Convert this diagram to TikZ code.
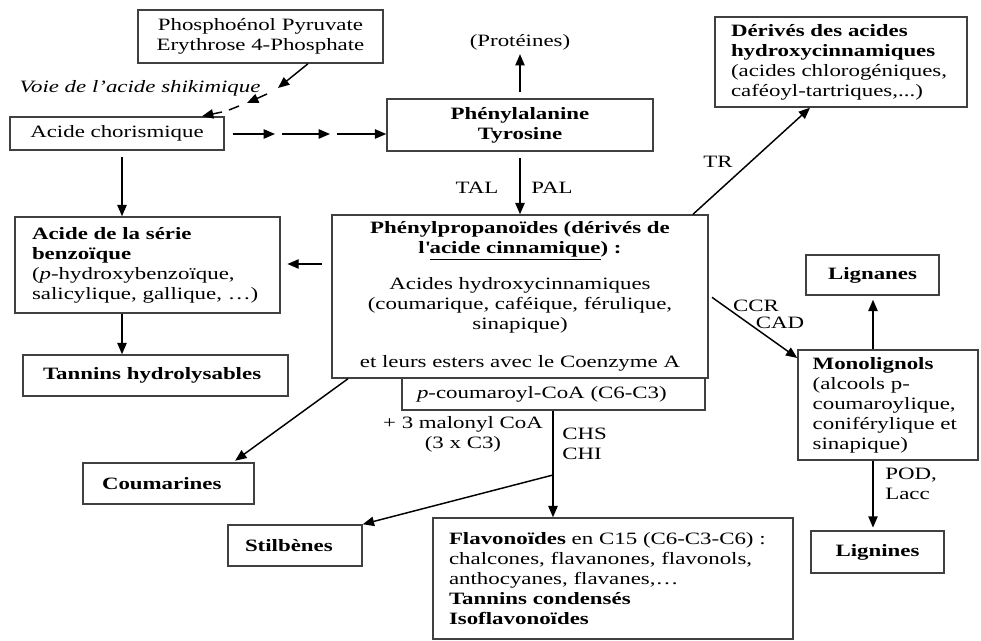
\documentclass[tikz,border=0pt]{standalone}
\usepackage{fontspec}
\setmainfont[FakeStretch=1.32,Ligatures=TeX]{Liberation Serif}
\usetikzlibrary{arrows.meta}
\begin{document}
\begin{tikzpicture}[x=0.75pt,y=-0.75pt,
  font=\fontsize{13}{15}\selectfont,
  box/.style={draw=black!75, line width=1.1pt, inner sep=0pt, align=center},
  bbox/.style={box, font=\fontsize{13}{15}\selectfont\bfseries},
  lbox/.style={draw=black!75, line width=1.1pt, inner ysep=0pt, align=left},
  blbox/.style={lbox, font=\fontsize{13}{15}\selectfont\bfseries},
  arr/.style={line width=1.1pt, -{Triangle[length=8.5pt,width=7pt]}},
  plain/.style={line width=1.1pt},
  lbl/.style={inner sep=0pt}]
\useasboundingbox (0,0) rectangle (981,641);

% boxes
\node[box, minimum width=183.75pt, minimum height=39.75pt] (pep) at (260.5,36.5) {Phosphoénol Pyruvate\\Erythrose 4-Phosphate};
\node[lbl] (voie) at (140,88) {\itshape Voie de l’acide shikimique};
\node[box, minimum width=160.5pt, minimum height=24.75pt] (chor) at (117,133.5) {Acide chorismique};
\node[bbox, minimum width=199.5pt, minimum height=39pt] (phe) at (520,125) {Phénylalanine\\Tyrosine};
\node[lbl] (prot) at (520,42) {(Protéines)};
\node[box, minimum width=282pt, minimum height=122.25pt] (ppr) at (520,296.5)
  {\textbf{Phénylpropanoïdes (dérivés de}\\
   \textbf{l\textquotesingle\underline{acide cinnamique}) :}\\[12pt]
   Acides hydroxycinnamiques\\
   (coumarique, caféique, férulique,\\
   sinapique)\\[13.5pt]
   et leurs esters avec le Coenzyme A};
\node[lbox, minimum width=227.25pt, minimum height=24pt, inner xsep=11.25pt, text width=204.75pt] (coa) at (553.5,394) {\textit{p}-coumaroyl-CoA (C6-C3)};
\node[lbox, minimum width=198.75pt, minimum height=72pt, inner xsep=12.75pt, text width=173.25pt] (benz) at (147.5,265)
  {\textbf{Acide de la série}\\\textbf{benzoïque}\\(\textit{p}-hydroxybenzoïque,\\salicylique, gallique, …)};
\node[blbox, minimum width=198.75pt, minimum height=30.75pt, inner xsep=15pt, text width=168.75pt] (tan) at (155.5,375.5) {Tannins hydrolysables};
\node[blbox, minimum width=128.25pt, minimum height=30.75pt, inner xsep=14.25pt, text width=99.75pt] (cou) at (168.5,483.5) {Coumarines};
\node[blbox, minimum width=100.5pt, minimum height=30.75pt, inner xsep=12.75pt, text width=75pt] (stil) at (295,545.5) {Stilbènes};
\node[lbox, minimum width=270pt, minimum height=90.75pt, inner xsep=12pt, text width=246pt] (flav) at (613,578.5)
  {\textbf{Flavonoïdes} en C15 (C6-C3-C6) :\\chalcones, flavanones, flavonols,\\anthocyanes, flavanes,…\\\textbf{Tannins condensés}\\\textbf{Isoflavonoïdes}\\[-5pt]{}};
\node[lbox, minimum width=189pt, minimum height=67.5pt, inner xsep=12pt, text width=165pt] (der) at (841,62)
  {\textbf{Dérivés des acides}\\\textbf{hydroxycinnamiques}\\(acides chlorogéniques,\\caféoyl-tartriques,...)};
\node[lbox, minimum width=135pt, minimum height=82.5pt, inner xsep=11pt, text width=113pt] (mono) at (888,405)
  {\textbf{Monolignols}\\(alcools p-\\coumaroylique,\\coniférylique et\\sinapique)};
\node[bbox, minimum width=99.75pt, minimum height=30pt] (lgn) at (872.5,275) {Lignanes};
\node[bbox, minimum width=99.75pt, minimum height=31.5pt] (lig) at (877.5,552) {Lignines};

% labels
\node[lbl] (tal) at (477,188) {TAL};
\node[lbl] (pal) at (552,188) {PAL};
\node[lbl] (tr) at (718,162) {TR};
\node[lbl] (ccr) at (756,306) {CCR};
\node[lbl] (cad) at (780,323) {CAD};
\node[lbl, align=center] (mal) at (463,434) {+ 3 malonyl CoA\\(3 x C3)};
\node[lbl, align=left, anchor=west] (chs) at (562,444) {CHS\\CHI};
\node[lbl, align=left, anchor=west] (pod) at (885,484) {POD,\\Lacc};

% helper coordinates
\coordinate (p0) at (308,0);
\coordinate (q1) at (278,88);
\coordinate (q2) at (267,94);
\coordinate (q3) at (247,103);
\coordinate (q4) at (239,106);
\coordinate (q5) at (229,110);
\coordinate (q6) at (222,112);
\coordinate (p7) at (202,0);
\coordinate (h1) at (275,134);
\coordinate (h2) at (282,134);
\coordinate (h3) at (330,134);
\coordinate (h4) at (337,134);
\coordinate (t0) at (693,0);
\coordinate (t1) at (810,0);
\coordinate (yb) at (0,264);
\coordinate (cb) at (122,0);
\coordinate (c0) at (348,0);
\coordinate (c1) at (233,0);
\coordinate (m0) at (0,295);
\coordinate (m1) at (0,358);
\coordinate (xl) at (873,0);
\coordinate (xf) at (553,0);
\coordinate (br) at (553,475);

% connectors
\draw[arr] (pep.south -| p0) -- (q1);
\draw[arr] (q2) -- (q3);
\draw[plain] (q4) -- (q5);
\draw[arr] (q6) -- (chor.north -| p7);

\draw[arr, shorten <=6pt] (chor.east |- h1) -- (h1);
\draw[arr] (h2) -- (h3);
\draw[arr] (h4) -- (phe.west |- h4);

\draw[arr, shorten <=4.5pt, shorten >=3pt] (phe.north) -- (prot.south);
\draw[arr, shorten <=5pt] (phe.south) -- (ppr.north);
\draw[arr] (ppr.north -| t0) -- (der.south -| t1);
\draw[arr, shorten <=7pt, shorten >=5pt] (ppr.west |- yb) -- (benz.east |- yb);
\draw[arr, shorten <=5pt] (chor.south -| cb) -- (benz.north -| cb);
\draw[arr] (benz.south -| cb) -- (tan.north -| cb);
\draw[arr, shorten >=2pt] (ppr.south -| c0) -- (cou.north -| c1);
\draw[arr, shorten <=3pt] (ppr.east |- m0) -- (mono.west |- m1);
\draw[arr, shorten >=3pt] (mono.north -| xl) -- (lgn.south -| xl);
\draw[arr, shorten >=2pt] (mono.south -| xl) -- (lig.north -| xl);
\draw[arr] (coa.south -| xf) -- (flav.north -| xf);
\draw[arr] (br) -- (stil.north east);
\end{tikzpicture}
\end{document}
